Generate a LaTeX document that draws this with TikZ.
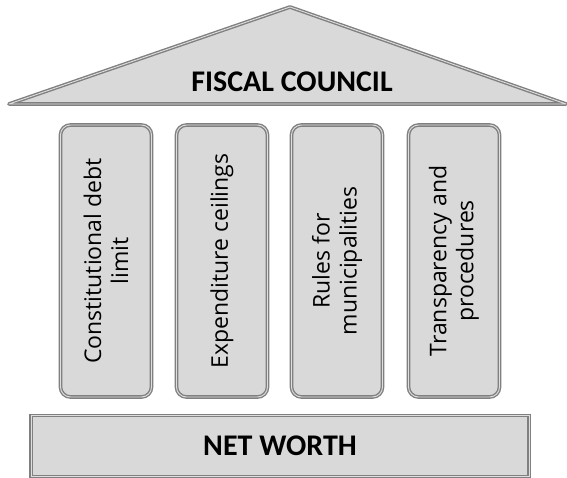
\documentclass[tikz,border=0pt]{standalone}
\usepackage{fontspec}
\setmainfont{Carlito}
\newfontfamily\pillarfont{Open Sans}
\usetikzlibrary{positioning}

\begin{document}
\begin{tikzpicture}[x=1pt,y=-1pt,every node/.style={font=\fontsize{30}{34}\selectfont\bfseries},
  edge/.style={draw=gray,line width=1.4pt,double=gray!25,double distance=0.9pt},
  pillar/.style={edge,fill=gray!30,rounded corners=10pt,rotate=90,align=center,
    minimum width=272pt,minimum height=91pt,inner sep=0pt,
    font=\pillarfont\fontsize{23}{27}\selectfont}]
\useasboundingbox (0,0) rectangle (567,477);
\coordinate (rl) at (9,104);
\coordinate (rt) at (290,7);
\coordinate (rr) at (566,104);
\filldraw[edge,fill=gray!30,line join=round] (rl)--(rt)--(rr)--cycle;
\node (roof) at (292,82) {FISCAL COUNCIL};
\node[pillar] (p1) at (106,261) {Constitutional debt\\limit};
\node[pillar] (p2) at (222,261) {Expenditure ceilings};
\node[pillar] (p3) at (337,261) {Rules for\\municipalities};
\node[pillar] (p4) at (454,261) {Transparency and\\procedures};
\node[edge,fill=gray!30,minimum width=498pt,minimum height=61pt,inner sep=0pt] (base) at (280,446) {NET WORTH};
\end{tikzpicture}
\end{document}
